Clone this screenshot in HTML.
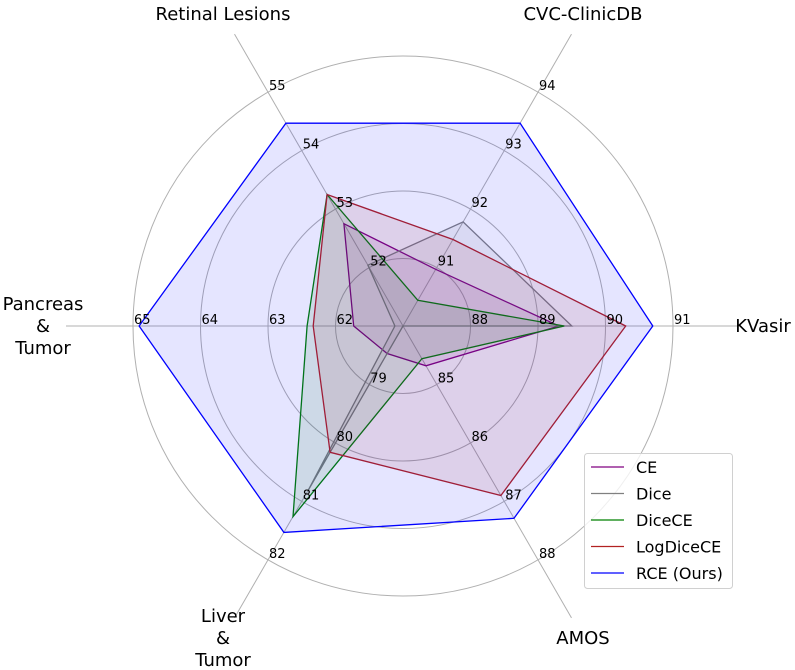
<!DOCTYPE html>
<html><head><meta charset="utf-8"><style>
body{margin:0;background:#fff;}
svg{display:block;font-family:"DejaVu Sans","Liberation Sans",sans-serif;}
</style></head><body>
<svg id="chart" width="795" height="670" viewBox="0 0 795 670" xmlns="http://www.w3.org/2000/svg">
<g id="grid"></g>
<g id="series"></g>
<g id="ticks"></g>
<g id="axlabels"></g>
<g id="legend"></g>
</svg>
<script>
const axes = ["KVasir","CVC-ClinicDB","Retinal Lesions","Pancreas & Tumor","Liver & Tumor","AMOS"];
const axisMin = [87, 90, 51, 61, 78, 84];
const tickValues = [[88,89,90,91],[91,92,93,94],[52,53,54,55],[62,63,64,65],[79,80,81,82],[85,86,87,88]];
const seriesNames = ["CE","Dice","DiceCE","LogDiceCE","RCE (Ours)"];
const seriesColors = ["#800080","#808080","#008000","#b22222","#0000ff"];
const ceValues = [89.31, 90.97, 52.75, 61.73, 78.47, 84.68];
const diceValues = [89.50, 91.78, 52.04, 61.12, 80.81, 84.0];
const diceceValues = [89.39, 90.44, 53.25, 62.42, 81.26, 84.56];
const logdiceceValues = [90.30, 91.48, 53.25, 62.33, 80.16, 86.90];
const rceValues = [90.70, 93.47, 54.47, 64.91, 81.53, 87.29];
const allSeries = [ceValues, diceValues, diceceValues, logdiceceValues, rceValues];

const NS="http://www.w3.org/2000/svg";
const cx=403, cy=326, unit=67.5, R=270;
function ang(i){return i*Math.PI/3;}
function rScale(i,v){return Math.max(0,(v-axisMin[i])*unit);}
function pt(i,r){return [cx+r*Math.cos(ang(i)), cy-r*Math.sin(ang(i))];}
function mk(tag,attrs,parent){const e=document.createElementNS(NS,tag);for(const k in attrs)e.setAttribute(k,attrs[k]);parent.appendChild(e);return e;}

const grid=document.getElementById('grid');
for(let k=1;k<=4;k++){
  const c=mk('circle',{cx:cx,cy:cy,r:k*unit,fill:'none',stroke:'#b0b0b0','stroke-width':1},grid);
  
  
}
axes.forEach((a,i)=>{
  const p=pt(i,337);
  const l=mk('line',{x1:cx,y1:cy,x2:p[0],y2:p[1],stroke:'#b0b0b0','stroke-width':1},grid);
  
  
});

const sg=document.getElementById('series');
allSeries.forEach((vals,s)=>{
  const pts=vals.map((v,i)=>pt(i,rScale(i,v)).map(n=>n.toFixed(1)).join(',')).join(' ');
  const pg=mk('polygon',{points:pts,fill:seriesColors[s],'fill-opacity':0.1,stroke:seriesColors[s],'stroke-width':1.3,'stroke-linejoin':'miter'},sg);
  
  
});

const tg=document.getElementById('ticks');
tickValues.forEach((tv,i)=>{
  tv.forEach(v=>{
    const p=pt(i,rScale(i,v));
    const t=mk('text',{x:p[0]+1,y:p[1]-2,'font-size':13,fill:'#000'},tg);
    t.textContent=v;
    
    
  });
});

const ag=document.getElementById('axlabels');
axes.forEach((a,i)=>{
  const p=pt(i,360);
  const lines=a.includes('&')?a.split(' '):[a];
  const t=mk('text',{x:p[0],y:0,'font-size':18,'text-anchor':'middle',fill:'#000'},ag);
  
  
  const lh=22, y0=p[1]-(lines.length-1)*lh/2+6;
  lines.forEach((ln,j)=>{const s=mk('tspan',{x:p[0],y:y0+j*lh},t);s.textContent=ln;});
});

const lg=document.getElementById('legend');
const box=mk('rect',{x:584.5,y:453.5,width:148,height:135,rx:3,fill:'#fff','fill-opacity':0.8,stroke:'#d0d0d0'},lg);


seriesNames.forEach((n,s)=>{
  const y=467+s*26.5;
  const g=mk('g',{},lg);
  
  
  mk('line',{x1:591,y1:y,x2:624,y2:y,stroke:seriesColors[s],'stroke-width':1.3},g);
  const t=mk('text',{x:636,y:y+6,'font-size':16,fill:'#000'},g);
  t.textContent=n;
});
</script>
</body></html>
